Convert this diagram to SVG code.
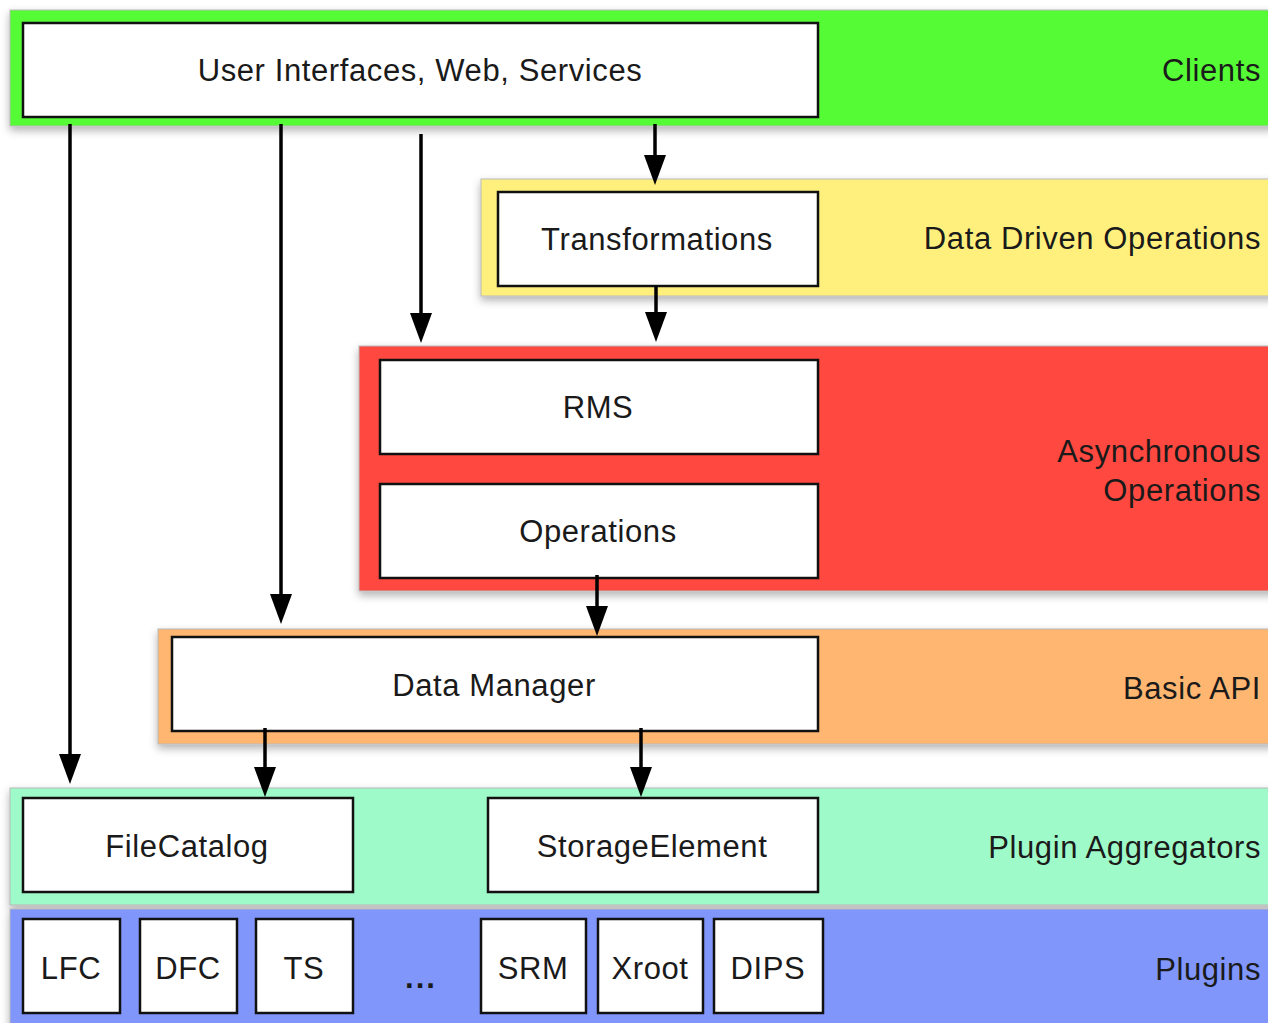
<svg xmlns="http://www.w3.org/2000/svg" width="1268" height="1023" viewBox="0 0 1268 1023">
<style>
.band{stroke:#b8b8b8;stroke-width:1;filter:url(#sh)}
.box{fill:#fff;stroke:#111;stroke-width:2.5}
.t{font-family:"Liberation Sans",Arial,sans-serif;font-size:31px;letter-spacing:0.6px;fill:#1a1a1a}
.c{text-anchor:middle}
.r{text-anchor:end}
.edge{stroke:#000;stroke-width:3.5;fill:none;marker-end:url(#ah)}
</style>
<defs>
<filter id="sh" x="-5%" y="-20%" width="110%" height="150%">
<feDropShadow dx="0" dy="4" stdDeviation="4" flood-color="#000" flood-opacity="0.3"/>
</filter>
<marker id="ah" markerUnits="userSpaceOnUse" markerWidth="32" markerHeight="24" refX="20" refY="11" orient="auto">
<path d="M0,0 L30,11 L0,22 z" fill="#000"/>
</marker>
</defs>
<rect width="1268" height="1023" fill="#fff"/>
<g id="bands">
<rect class="band" x="10" y="10" width="1270" height="116" fill="#55fb36"/>
<rect class="band" x="481" y="179" width="800" height="117" fill="#fff07e"/>
<rect class="band" x="359" y="346" width="920" height="245" fill="#ff4841"/>
<rect class="band" x="158" y="629" width="1120" height="115" fill="#feb671"/>
<rect class="band" x="10" y="788" width="1270" height="117" fill="#9ffac9"/>
<rect class="band" x="10" y="909" width="1270" height="120" fill="#8096fb"/>
</g>
<g id="layer-labels">
<text class="t r" x="1261" y="81">Clients</text>
<text class="t r" x="1261" y="249">Data Driven Operations</text>
<text class="t r" x="1261" y="462">Asynchronous</text>
<text class="t r" x="1261" y="501">Operations</text>
<text class="t r" x="1261" y="699">Basic API</text>
<text class="t r" x="1261" y="858">Plugin Aggregators</text>
<text class="t r" x="1261" y="980">Plugins</text>
</g>
<g id="ui"><rect class="box" x="23" y="23" width="795" height="94"/><text class="t c" x="420" y="81">User Interfaces, Web, Services</text></g>
<g id="transformations"><rect class="box" x="498" y="192" width="320" height="94"/><text class="t c" x="657" y="250">Transformations</text></g>
<g id="rms"><rect class="box" x="380" y="360" width="438" height="94"/><text class="t c" x="598" y="418">RMS</text></g>
<g id="operations"><rect class="box" x="380" y="484" width="438" height="94"/><text class="t c" x="598" y="542">Operations</text></g>
<g id="datamanager"><rect class="box" x="172" y="637" width="646" height="94"/><text class="t c" x="494" y="696">Data Manager</text></g>
<g id="filecatalog"><rect class="box" x="23" y="798" width="330" height="94"/><text class="t c" x="187" y="857">FileCatalog</text></g>
<g id="storageelement"><rect class="box" x="488" y="798" width="330" height="94"/><text class="t c" x="652" y="857">StorageElement</text></g>
<g id="lfc"><rect class="box" x="23" y="919" width="97" height="94"/><text class="t c" x="71" y="979">LFC</text></g>
<g id="dfc"><rect class="box" x="140" y="919" width="97" height="94"/><text class="t c" x="188" y="979">DFC</text></g>
<g id="ts"><rect class="box" x="256" y="919" width="97" height="94"/><text class="t c" x="304" y="979">TS</text></g>
<g id="ellipsis"><text class="t c" x="421" y="988" style="letter-spacing:2px;font-weight:bold">...</text></g>
<g id="srm"><rect class="box" x="481" y="919" width="105" height="94"/><text class="t c" x="533" y="979">SRM</text></g>
<g id="xroot"><rect class="box" x="598" y="919" width="105" height="94"/><text class="t c" x="650" y="979">Xroot</text></g>
<g id="dips"><rect class="box" x="714" y="919" width="109" height="94"/><text class="t c" x="768" y="979">DIPS</text></g>
<g id="connectors">
<path class="edge" d="M70,124 V774"/>
<path class="edge" d="M281,124 V614"/>
<path class="edge" d="M421,134 V333"/>
<path class="edge" d="M655,124 V175"/>
<path class="edge" d="M656,286 V332"/>
<path class="edge" d="M597,575 V626"/>
<path class="edge" d="M265,728 V787"/>
<path class="edge" d="M641,728 V787"/>
</g>
</svg>
